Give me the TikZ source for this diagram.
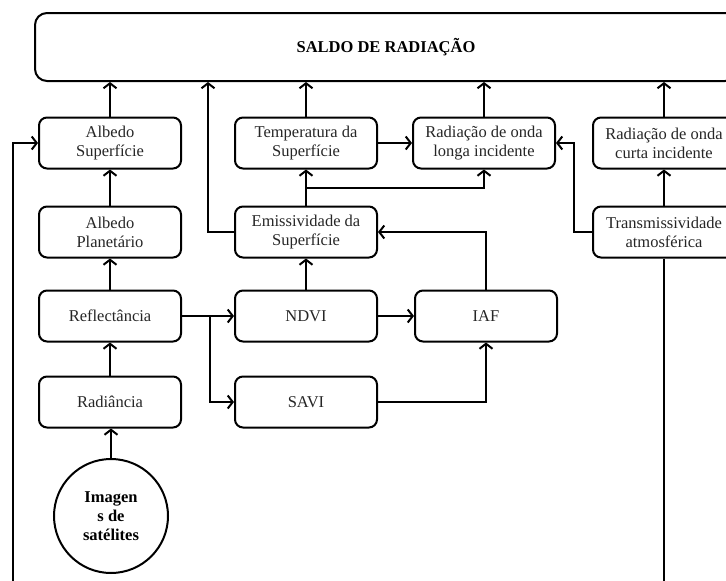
\documentclass[tikz,border=0pt]{standalone}
\usepackage{fontspec}
\setmainfont{Liberation Serif}
\usetikzlibrary{arrows.meta,positioning}

\begin{document}
\begin{tikzpicture}[x=1pt, y=-1pt, font=\fontsize{16.5}{19}\selectfont,
     box/.style={draw, rounded corners=8pt, line width=2pt, minimum width=142pt,
       minimum height=51pt, align=center, text=black!85},
     arr/.style={line width=2pt, -{Straight Barb[length=5pt,width=13pt]}},
     sat/.style={draw, circle, line width=2pt, minimum size=114pt, align=center,
       font=\fontsize{16.5}{19}\selectfont\bfseries}]

   \clip (0,0) rectangle (726,581);

   \node[box, minimum width=702pt, minimum height=68pt, rounded corners=12pt,
     text=black, font=\fontsize{16.5}{19}\selectfont\bfseries] (saldo) at (386,47) {SALDO DE RADIAÇÃO};

   \node[box] (albsup) at (110,143) {Albedo\\Superfície};
   \node[box] (albplan) at (110,232) {Albedo\\Planetário};
   \node[box] (refl) at (110,316) {Reflectância};
   \node[box] (rad) at (110,402) {Radiância};
   \node[sat] (img) at (111,516) {Imagen\\s de\\satélites};

   \node[box] (temp) at (306,143) {Temperatura da\\Superfície};
   \node[box] (emis) at (306,232) {Emissividade da\\Superfície};
   \node[box] (ndvi) at (306,316) {NDVI};
   \node[box] (savi) at (306,402) {SAVI};

   \node[box] (longa) at (484,143) {Radiação de onda\\longa incidente};
   \node[box] (iaf) at (486,316) {IAF};

   \node[box] (curta) at (664,143) {Radiação de onda\\curta incidente};
   \node[box] (trans) at (664,232) {Transmissividade\\atmosférica};

   \coordinate (es) at (208,0);
   \coordinate (et) at (306,188);
   \coordinate (tl) at (574,143);
   \coordinate (rs) at (210,316);
   \coordinate (lo) at (13,620);

   % into the balance
   \draw[arr] (albsup) -- (albsup |- saldo.south);
   \draw[arr] (temp) -- (temp |- saldo.south);
   \draw[arr] (longa) -- (longa |- saldo.south);
   \draw[arr] (curta) -- (curta |- saldo.south);
   \draw[arr] (emis.west) -| (es |- saldo.south);

   % left column
   \draw[arr] (img) -- (img |- rad.south);
   \draw[arr] (rad) -- (refl);
   \draw[arr] (refl) -- (albplan);
   \draw[arr] (albplan) -- (albsup);

   % vegetation indices
   \draw[arr] (refl) -- (ndvi);
   \draw[arr] (rs) |- (savi.west);
   \draw[arr] (ndvi) -- (iaf);
   \draw[arr] (savi.east) -| (iaf.south);
   \draw[arr] (iaf.north) |- (emis.east);
   \draw[arr] (ndvi) -- (emis);

   % longwave
   \draw[arr] (emis) -- (temp);
   \draw[arr] (et) -| (longa.south);
   \draw[arr] (temp) -- (longa);
   \draw[arr] (trans.west) -| (tl) -- (longa.east);

   % shortwave
   \draw[arr] (trans) -- (curta);
   \draw[arr] (trans.south) |- (lo) |- (albsup.west);
\end{tikzpicture}
\end{document}
